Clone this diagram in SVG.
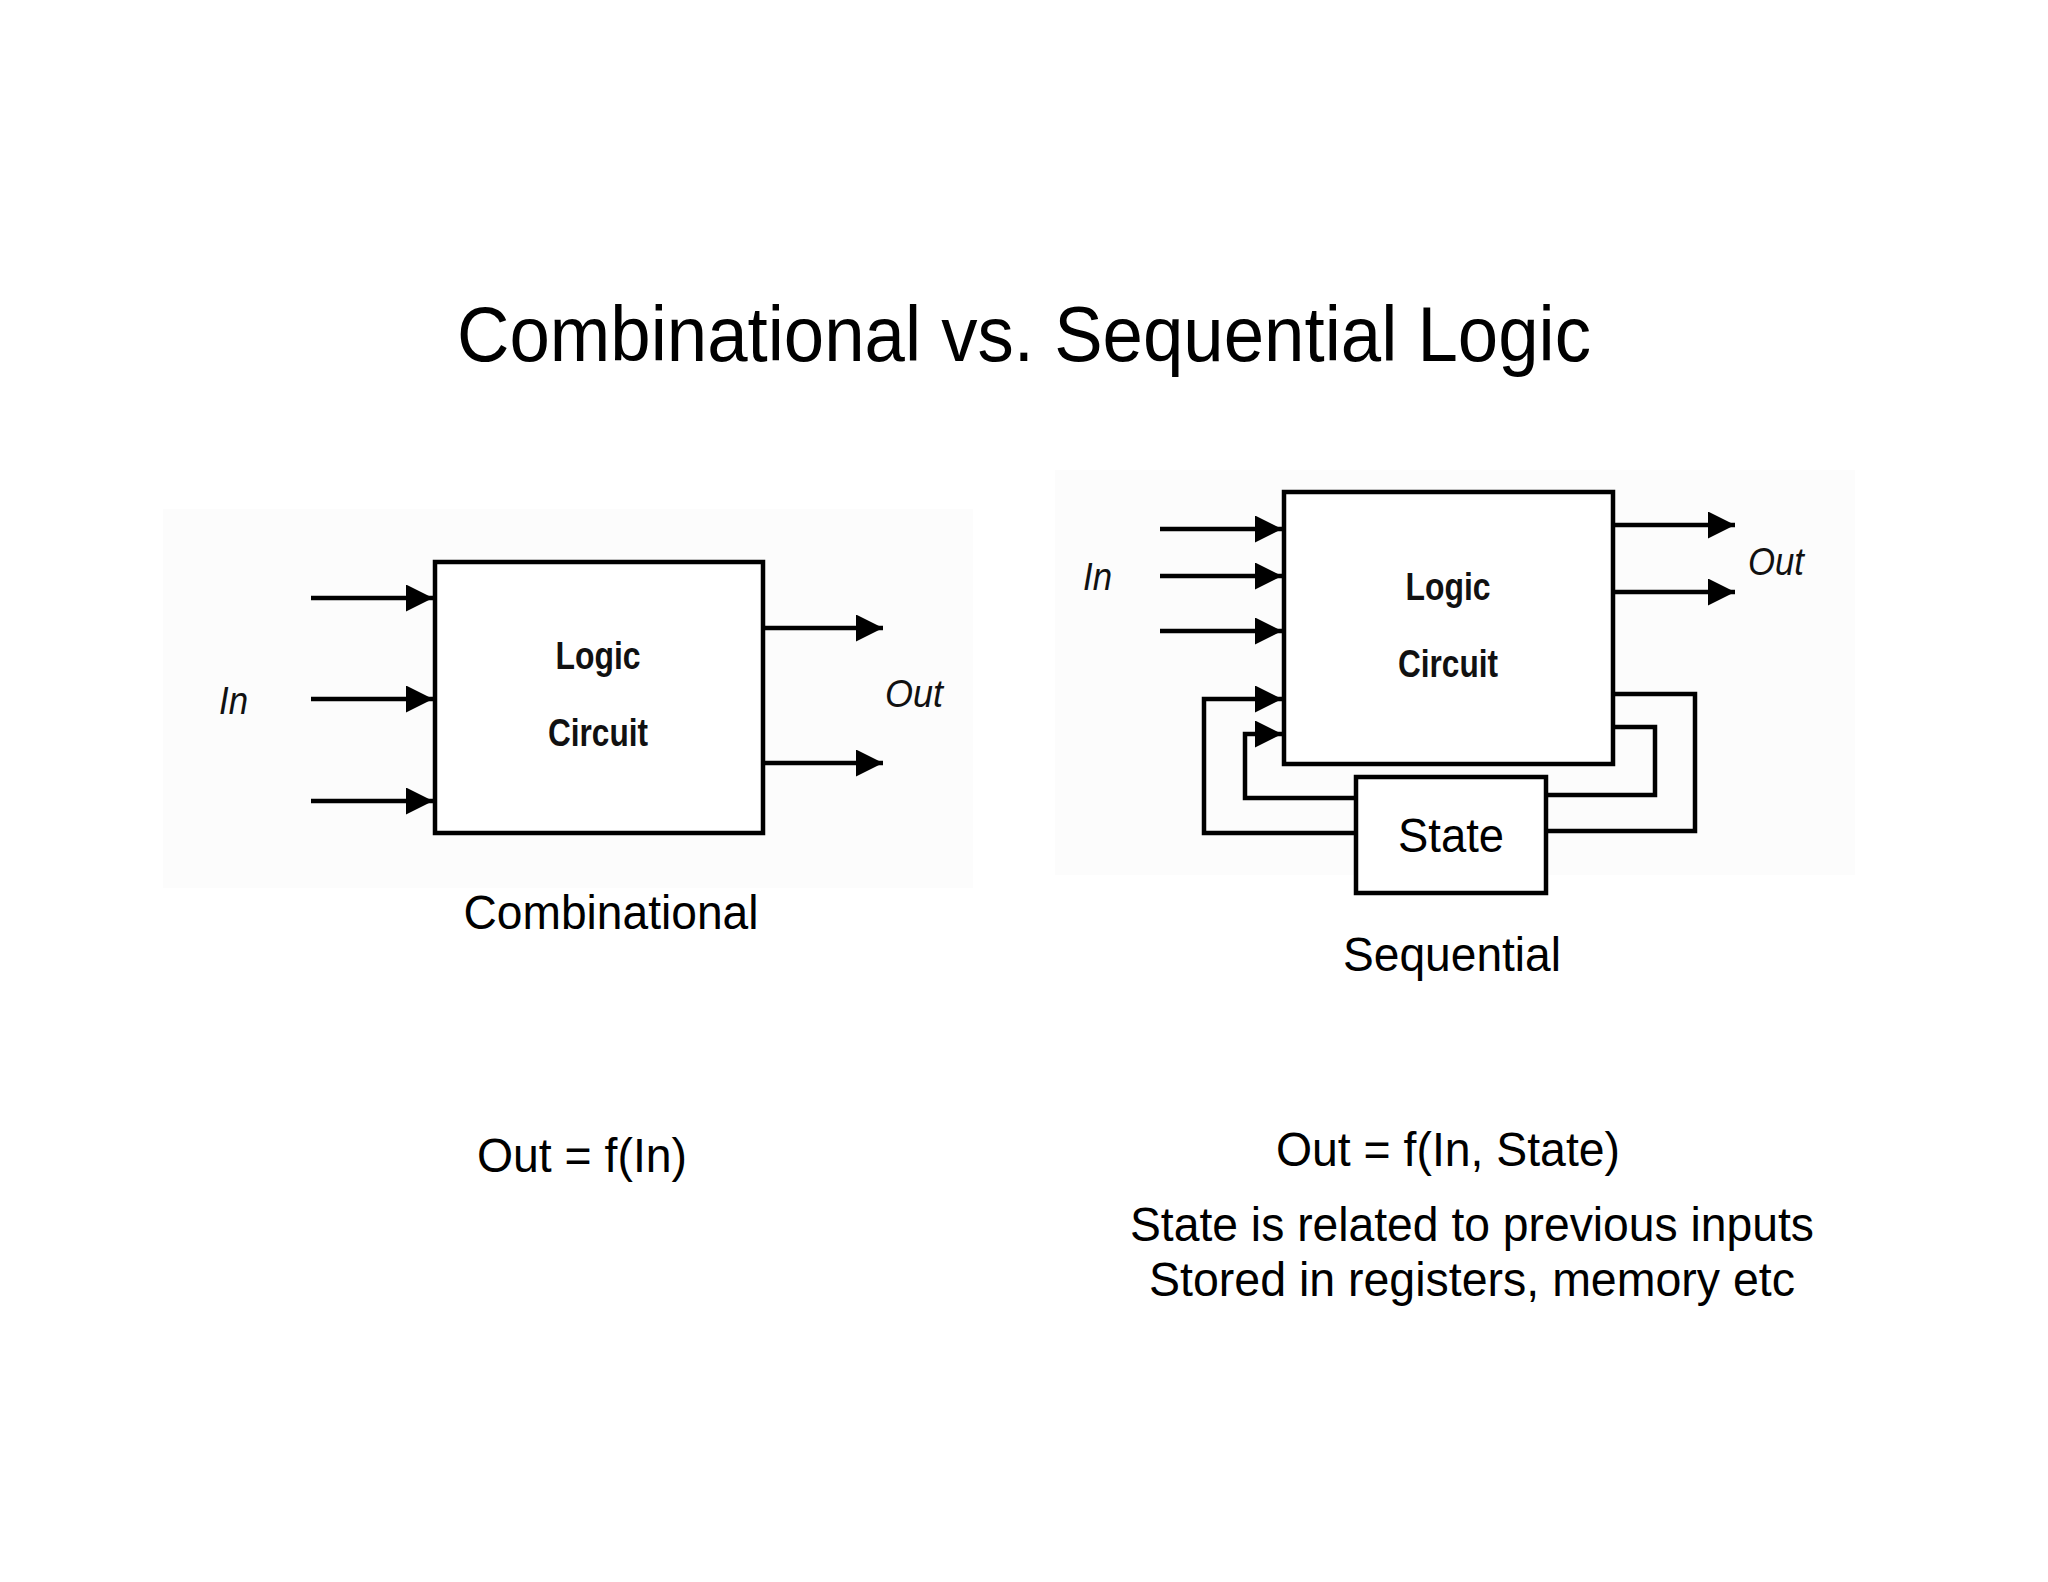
<svg xmlns="http://www.w3.org/2000/svg" width="2048" height="1582" viewBox="0 0 2048 1582">
<defs>
<marker id="ah" markerWidth="6" markerHeight="6" refX="6" refY="3" orient="auto" markerUnits="strokeWidth">
<path d="M0,0 L6,3 L0,6 Z" fill="#000"/>
</marker>
<style>
.t{font-family:"Liberation Sans",Arial,sans-serif;fill:#000}
.b{font-family:"Liberation Sans",Arial,sans-serif;font-weight:bold;fill:#111}
.i{font-family:"Liberation Sans",Arial,sans-serif;font-style:italic;fill:#111}
.box{fill:#fff;stroke:#000;stroke-width:4.5}
.w{fill:none;stroke:#000;stroke-width:4.5}
.a{fill:none;stroke:#000;stroke-width:4.5;marker-end:url(#ah)}
</style>
</defs>
<rect width="2048" height="1582" fill="#fff"/>
<text class="t" x="1024" y="361" font-size="77" text-anchor="middle" textLength="1134" lengthAdjust="spacingAndGlyphs">Combinational vs. Sequential Logic</text>

<rect x="163" y="509" width="810" height="379" fill="#fcfcfc"/>
<rect x="1055" y="470" width="800" height="405" fill="#fcfcfc"/>

<g id="comb-logic">
<rect class="box" x="435" y="562" width="328" height="271"/>
<text class="b" x="598" y="669" font-size="38" text-anchor="middle" textLength="85" lengthAdjust="spacingAndGlyphs">Logic</text>
<text class="b" x="598" y="746" font-size="38" text-anchor="middle" textLength="100" lengthAdjust="spacingAndGlyphs">Circuit</text>
</g>
<g id="comb-labels">
<text class="i" x="219" y="714" font-size="38" textLength="29" lengthAdjust="spacingAndGlyphs">In</text>
<text class="i" x="885" y="707" font-size="38" textLength="58" lengthAdjust="spacingAndGlyphs">Out</text>
<text class="t" x="611" y="929" font-size="48" text-anchor="middle" textLength="295" lengthAdjust="spacingAndGlyphs">Combinational</text>
</g>

<g id="seq-logic">
<rect class="box" x="1284" y="492" width="329" height="272"/>
<text class="b" x="1448" y="600" font-size="38" text-anchor="middle" textLength="85" lengthAdjust="spacingAndGlyphs">Logic</text>
<text class="b" x="1448" y="677" font-size="38" text-anchor="middle" textLength="100" lengthAdjust="spacingAndGlyphs">Circuit</text>
</g>
<g id="seq-state">
<rect class="box" x="1356" y="777" width="190" height="116"/>
<text class="t" x="1451" y="852" font-size="48" text-anchor="middle" textLength="106" lengthAdjust="spacingAndGlyphs">State</text>
</g>
<g id="seq-labels">
<text class="i" x="1083" y="590" font-size="38" textLength="29" lengthAdjust="spacingAndGlyphs">In</text>
<text class="i" x="1748" y="575" font-size="38" textLength="56" lengthAdjust="spacingAndGlyphs">Out</text>
<text class="t" x="1452" y="971" font-size="48" text-anchor="middle" textLength="218" lengthAdjust="spacingAndGlyphs">Sequential</text>
</g>

<g id="connectors">
<path class="a" d="M311,598 H433"/>
<path class="a" d="M311,699 H433"/>
<path class="a" d="M311,801 H433"/>
<path class="a" d="M763,628 H883"/>
<path class="a" d="M763,763 H883"/>
<path class="a" d="M1160,529 H1282"/>
<path class="a" d="M1160,576 H1282"/>
<path class="a" d="M1160,631 H1282"/>
<path class="a" d="M1613,525 H1735"/>
<path class="a" d="M1613,592 H1735"/>
<path class="w" d="M1613,694 H1695 V831 H1546"/>
<path class="w" d="M1613,727 H1655 V795 H1546"/>
<path class="a" d="M1356,833 H1204 V699 H1282"/>
<path class="a" d="M1356,798 H1245 V734 H1282"/>
</g>

<g id="equations">
<text class="t" x="477" y="1172" font-size="48" textLength="210" lengthAdjust="spacingAndGlyphs">Out = f(In)</text>
<text class="t" x="1448" y="1166" font-size="48" text-anchor="middle" textLength="344" lengthAdjust="spacingAndGlyphs">Out = f(In, State)</text>
<text class="t" x="1472" y="1241" font-size="48" text-anchor="middle" textLength="684" lengthAdjust="spacingAndGlyphs">State is related to previous inputs</text>
<text class="t" x="1472" y="1296" font-size="48" text-anchor="middle" textLength="646" lengthAdjust="spacingAndGlyphs">Stored in registers, memory etc</text>
</g>
</svg>
